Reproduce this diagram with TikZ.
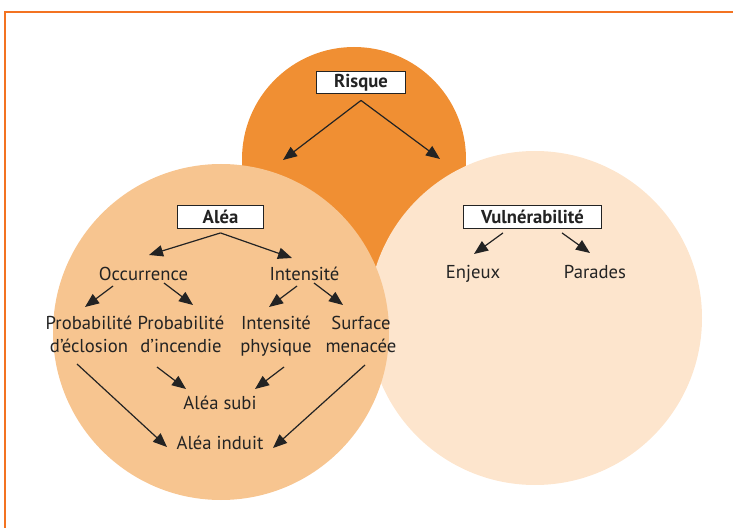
\documentclass[tikz,border=0pt]{standalone}
\usepackage{fontspec}
\setmainfont{PT Sans}
\usetikzlibrary{arrows.meta}

\definecolor{risqueor}{RGB}{240,143,51}
\definecolor{aleaor}{RGB}{247,197,144}
\definecolor{vulnor}{RGB}{253,229,205}
\definecolor{cadre}{RGB}{243,115,33}
\definecolor{encre}{RGB}{35,35,35}

\tikzset{every picture/.style={line width=0.75pt}}
\tikzset{
  titre/.style={draw=encre, fill=white, line width=0.9pt, font=\fontsize{14}{17}\selectfont\bfseries,
    minimum width=64pt, minimum height=17pt, inner xsep=13pt, inner ysep=0pt},
  etiq/.style={anchor=base, inner sep=0pt, align=center},
  fl/.style={draw=encre, line width=0.9pt, -{Triangle[length=10.5pt,width=8.5pt]}}
}

\begin{document}
\begin{tikzpicture}[x=0.75pt,y=0.75pt,yscale=-1,xscale=1,
  font=\fontsize{14}{17.25}\selectfont, text=encre]
  \useasboundingbox (0,0) rectangle (733,528);

  % cadre
  \draw [cadre, line width=1.1pt] (5,528) -- (5,12) -- (733,12) ;

  % les trois cercles
  \fill [risqueor] (354,159) circle (112) ;
  \fill [vulnor] (535,318) circle (167) ;
  \fill [aleaor] (221,332) circle (168) ;

  % titres
  \node [titre] (risque) at (361,82.5) {Risque};
  \node [titre] (alea) at (220.5,217) {Aléa};
  \node [titre] (vuln) at (532.5,217) {Vulnérabilité};

  \coordinate (versalea) at (283,160);
  \coordinate (versvuln) at (440,159);

  % aléa
  \node [etiq] (occ) at (143.5,281) {Occurrence};
  \node [etiq] (inten) at (304.5,281) {Intensité};
  \node [etiq] (probe) at (89,352) {Probabilité\\d’éclosion};
  \node [etiq] (probi) at (181,352) {Probabilité\\d’incendie};
  \node [etiq] (intp) at (276,352) {Intensité\\physique};
  \node [etiq] (surf) at (361,352) {Surface\\menacée};
  \node [etiq] (subi) at (220,409) {Aléa subi};
  \node [etiq] (induit) at (220,449) {Aléa induit};

  % vulnérabilité
  \node [etiq] (enjeux) at (473,278) {Enjeux};
  \node [etiq] (parades) at (595,278) {Parades};

  \draw [fl] ([shift={(0,6)}]risque.south) -- (versalea) ;
  \draw [fl] ([shift={(0,6)}]risque.south) -- (versvuln) ;

  \draw [fl] ([shift={(0,4)}]alea.south) -- ([shift={(5.5,-26)}]occ.base) ;
  \draw [fl] ([shift={(0,4)}]alea.south) -- ([shift={(-12.5,-23)}]inten.base) ;

  \draw [fl] ([shift={(-30.5,5)}]occ.base) -- ([shift={(-4,-45)}]probe.base) ;
  \draw [fl] ([shift={(20.5,2)}]occ.base) -- ([shift={(12,-47)}]probi.base) ;
  \draw [fl] ([shift={(-7.5,5)}]inten.base) -- ([shift={(-7,-45)}]intp.base) ;
  \draw [fl] ([shift={(9.5,2)}]inten.base) -- ([shift={(-18,-47)}]surf.base) ;

  \draw [fl] ([shift={(-24,15)}]probi.base) -- ([shift={(-34,-20)}]subi.base) ;
  \draw [fl] ([shift={(8,15)}]intp.base) -- ([shift={(35,-20)}]subi.base) ;
  \draw [fl] ([shift={(-12,12)}]probe.base) -- ([shift={(-53,-2)}]induit.base) ;
  \draw [fl] ([shift={(4,13)}]surf.base) -- ([shift={(53,-1)}]induit.base) ;

  \draw [fl] ([shift={(-29.5,4)}]vuln.south) -- ([shift={(1,-24)}]enjeux.base) ;
  \draw [fl] ([shift={(29.5,4)}]vuln.south) -- ([shift={(-5,-25)}]parades.base) ;

\end{tikzpicture}
\end{document}
